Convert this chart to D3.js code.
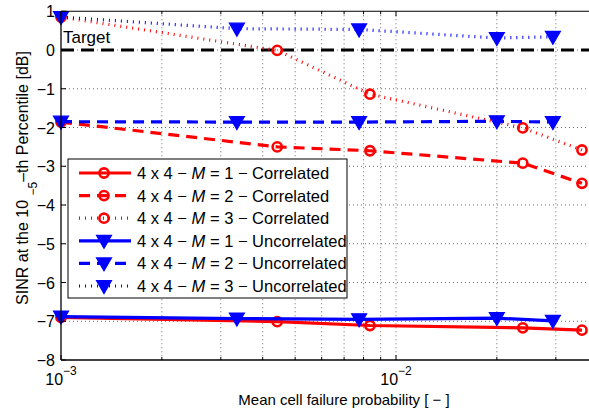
<!DOCTYPE html>
<html>
<head>
<meta charset="utf-8">
<script src="https://cdn.jsdelivr.net/npm/d3@7/dist/d3.min.js"></script>
<style>
  html, body { margin: 0; padding: 0; background: #fff; }
  svg { display: block; font-family: "Liberation Sans", Arial, Helvetica, sans-serif; }
</style>
</head>
<body>
<svg id="chart" width="589" height="411"></svg>
<script>
// Mean cell failure probability at which each configuration was simulated
const xCorrelated   = [0.001, 0.00442, 0.00836, 0.0239, 0.0359];
const xUncorrelated = [0.001, 0.00335, 0.00776, 0.0200, 0.0294];

// SINR at the 1e-5 percentile [dB]
const corrM1   = [-6.90, -7.01, -7.11, -7.17, -7.23];
const corrM2   = [-1.86, -2.50, -2.60, -2.92, -3.44];
const corrM3   = [0.85, -0.01, -1.14, -2.01, -2.58];
const uncorrM1 = [-6.88, -6.93, -6.95, -6.92, -6.99];
const uncorrM2 = [-1.85, -1.86, -1.86, -1.84, -1.86];
const uncorrM3 = [0.85, 0.55, 0.53, 0.31, 0.34];

const targetLevel = 0;
const yTicks = [1, 0, -1, -2, -3, -4, -5, -6, -7, -8];
const xMajorTicks = [0.001, 0.01];
const xMajorExponents = ["−3", "−2"];
const xMinorTicks = [0.002, 0.003, 0.004, 0.005, 0.006, 0.007, 0.008, 0.009, 0.02, 0.03];

const legendM = ["1", "2", "3", "1", "2", "3"];
const legendKind = ["Correlated", "Correlated", "Correlated", "Uncorrelated", "Uncorrelated", "Uncorrelated"];

const RED = "#ff0000", BLUE = "#0000ff";
const DASH = "11,7", DOT = "1,5";

const series = [
  { x: xCorrelated,   y: corrM1,   color: RED,  dash: null, marker: "circle" },
  { x: xCorrelated,   y: corrM2,   color: RED,  dash: DASH, marker: "circle" },
  { x: xCorrelated,   y: corrM3,   color: RED,  dash: DOT,  marker: "circle" },
  { x: xUncorrelated, y: uncorrM1, color: BLUE, dash: null, marker: "tri" },
  { x: xUncorrelated, y: uncorrM2, color: BLUE, dash: DASH, marker: "tri" },
  { x: xUncorrelated, y: uncorrM3, color: BLUE, dash: DOT,  marker: "tri" }
];

const svg = d3.select("#chart");
const plotLeft = 61, plotTop = 11.25, plotBottom = 360;

const x = d3.scaleLog().domain([0.001, 0.04]).range([plotLeft, plotLeft + 335 * Math.log10(40)]);
const y = d3.scaleLinear().domain([-8, 1]).range([plotBottom, plotTop]);
const plotRight = x.range()[1];

// grid
const grid = svg.append("g").attr("stroke", "#444").attr("stroke-width", 0.8)
  .attr("stroke-dasharray", "1,3").attr("fill", "none");
[...xMinorTicks, 0.01].forEach(v => {
  grid.append("line").attr("x1", x(v)).attr("x2", x(v)).attr("y1", plotTop).attr("y2", plotBottom);
});
yTicks.slice(1, -1).forEach(v => {
  grid.append("line").attr("x1", plotLeft).attr("x2", plotRight).attr("y1", y(v)).attr("y2", y(v));
});

// target line
svg.append("line")
  .attr("x1", plotLeft).attr("x2", plotRight).attr("y1", y(targetLevel)).attr("y2", y(targetLevel))
  .attr("stroke", "#000").attr("stroke-width", 3).attr("stroke-dasharray", "13,7");
svg.append("text").attr("x", 63).attr("y", 43).attr("font-size", 17).text("Target");

// markers
function drawMarker(g, kind, cx, cy, color) {
  if (kind === "circle") {
    g.append("circle").attr("cx", cx).attr("cy", cy).attr("r", 4.6)
      .attr("fill", "none").attr("stroke", color).attr("stroke-width", 2.6);
  } else {
    g.append("path")
      .attr("d", `M${cx - 7.5},${cy - 5.5}L${cx + 7.5},${cy - 5.5}L${cx},${cy + 7.5}Z`)
      .attr("fill", color).attr("stroke", color).attr("stroke-width", 1.2);
  }
}

const line = d3.line().x(d => x(d[0])).y(d => y(d[1]));
series.forEach(s => {
  const pts = s.x.map((v, i) => [v, s.y[i]]);
  const g = svg.append("g");
  g.append("path").attr("d", line(pts)).attr("fill", "none")
    .attr("stroke", s.color).attr("stroke-width", 3.2)
    .attr("stroke-dasharray", s.dash);
  pts.forEach(p => drawMarker(g, s.marker, x(p[0]), y(p[1]), s.color));
});

// axes box and ticks
const axes = svg.append("g").attr("stroke", "#000").attr("fill", "none");
axes.append("line").attr("x1", plotLeft).attr("x2", plotLeft).attr("y1", plotTop).attr("y2", plotBottom).attr("stroke-width", 1.3);
axes.append("line").attr("x1", plotLeft).attr("x2", plotRight).attr("y1", plotBottom).attr("y2", plotBottom).attr("stroke-width", 1.3);
axes.append("line").attr("x1", plotLeft).attr("x2", plotRight).attr("y1", plotTop).attr("y2", plotTop).attr("stroke-width", 1);
yTicks.forEach(v => {
  axes.append("line").attr("x1", plotLeft).attr("x2", plotLeft + 5).attr("y1", y(v)).attr("y2", y(v));
});
xMinorTicks.forEach(v => {
  axes.append("line").attr("x1", x(v)).attr("x2", x(v)).attr("y1", plotBottom).attr("y2", plotBottom - 3);
  axes.append("line").attr("x1", x(v)).attr("x2", x(v)).attr("y1", plotTop).attr("y2", plotTop + 3);
});
xMajorTicks.forEach(v => {
  axes.append("line").attr("x1", x(v)).attr("x2", x(v)).attr("y1", plotBottom).attr("y2", plotBottom - 5);
  axes.append("line").attr("x1", x(v)).attr("x2", x(v)).attr("y1", plotTop).attr("y2", plotTop + 5);
});

// tick labels
yTicks.forEach(v => {
  svg.append("text").attr("x", 55).attr("y", y(v) + 6).attr("text-anchor", "end")
    .attr("font-size", 16).text(v < 0 ? "−" + Math.abs(v) : String(v));
});
xMajorTicks.forEach((v, i) => {
  const t = svg.append("text").attr("x", x(v)).attr("y", 385).attr("text-anchor", "middle").attr("font-size", 16);
  t.append("tspan").text("10");
  t.append("tspan").attr("dy", -10).attr("font-size", 12).text(xMajorExponents[i]);
});

// axis titles
svg.append("text").attr("x", 344).attr("y", 405).attr("text-anchor", "middle")
  .attr("font-size", 15).text("Mean cell failure probability [ − ]");
const yl = svg.append("text").attr("transform", "translate(28,178) rotate(-90)")
  .attr("text-anchor", "middle").attr("font-size", 16);
yl.append("tspan").text("SINR at the 10 ");
yl.append("tspan").attr("dy", 9).attr("font-size", 12).text("−5");
yl.append("tspan").attr("dy", -9).text("–th Percentile [dB]");

// legend
const lg = svg.append("g");
lg.append("rect").attr("x", 68).attr("y", 159).attr("width", 279).attr("height", 139)
  .attr("fill", "#fff").attr("stroke", "#000").attr("stroke-width", 1);
series.forEach((s, i) => {
  const ly = 173 + i * 22.6;
  lg.append("line").attr("x1", 79).attr("x2", 131).attr("y1", ly).attr("y2", ly)
    .attr("stroke", s.color).attr("stroke-width", 3.2).attr("stroke-dasharray", s.dash);
  drawMarker(lg, s.marker, 104, ly, s.color);
  const t = lg.append("text").attr("x", 137).attr("y", ly + 6).attr("font-size", 16.5);
  t.append("tspan").text("4 x 4 − ");
  t.append("tspan").attr("font-style", "italic").text("M");
  t.append("tspan").text(" = " + legendM[i] + " − " + legendKind[i]);
});
</script>
</body>
</html>
